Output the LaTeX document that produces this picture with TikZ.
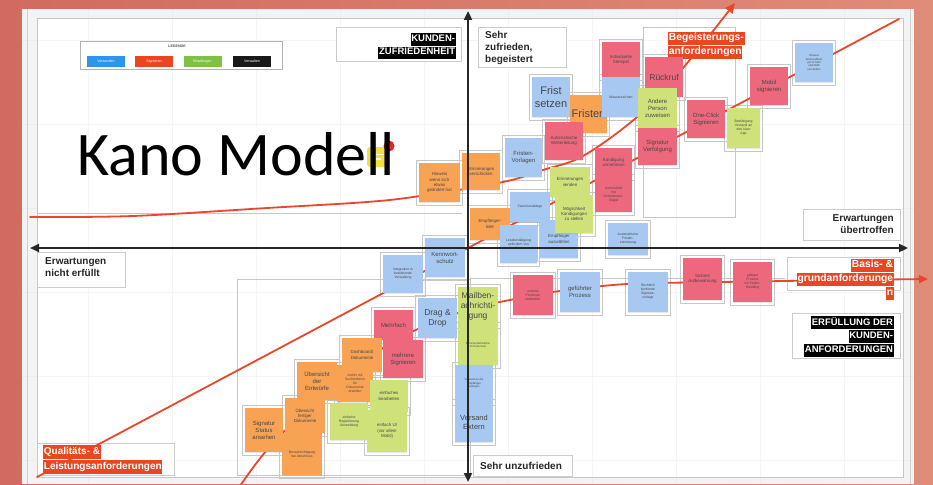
\documentclass[tikz,border=0pt]{standalone}
\usepackage{fontspec}
\setmainfont{Liberation Sans}
\newfontfamily\kanofont{Carlito}
\usetikzlibrary{arrows.meta,shadows}
\definecolor{salmonL}{HTML}{D26A5F}
\definecolor{salmonM}{HTML}{E8A28D}
\definecolor{salmonR}{HTML}{DF8C79}
\definecolor{panelgray}{HTML}{F3F3F3}
\definecolor{redline}{HTML}{E8472B}
\definecolor{redlbl}{HTML}{E9471F}
\definecolor{nOrange}{HTML}{F8A253}
\definecolor{nBlue}{HTML}{A7C9F1}
\definecolor{nPink}{HTML}{EE687D}
\definecolor{nGreen}{HTML}{CFE27A}
\definecolor{lgBlue}{HTML}{2E95EC}
\definecolor{lgRed}{HTML}{EA4420}
\definecolor{lgGreen}{HTML}{7EC243}
\definecolor{iconYellow}{HTML}{F1E23A}
\definecolor{badgeRed}{HTML}{E0242B}

\pgfdeclarelayer{bg}
\pgfdeclarelayer{frames}
\pgfdeclarelayer{curves}
\pgfdeclarelayer{fore}
\pgfsetlayers{bg,frames,curves,main,fore}

\newcommand\blkhl[1]{{\setlength{\fboxsep}{0.7pt}\colorbox{black}{\textcolor{white}{\strut #1}}}}
\newcommand\redhl[1]{{\setlength{\fboxsep}{0.7pt}\colorbox{redlbl}{\textcolor{white}{\strut #1}}}}

\newcommand\stick[8]{%
  \begin{pgfonlayer}{frames}
    \draw[frameline] (#2-2.5,#3-2.5) rectangle (#4+2.5,#5+3.5);
  \end{pgfonlayer}
  \node[note, fill=#6, #7, minimum width={(#4-#2)*1pt}, minimum height={(#5-#3)*1pt}] (#1) at ({(#2+#4)/2},{(#3+#5)/2}) {#8};%
}

\begin{document}
\begin{tikzpicture}[x=1pt,y=-1pt,
  note/.style={rectangle, inner sep=0.5pt, align=center, text=black!72,
    drop shadow={opacity=0.18, shadow xshift=0.3pt, shadow yshift=-1.3pt}},
  frameline/.style={draw=black!22, line width=0.35pt},
  labelbox/.style={draw=black!20, fill=white, line width=0.4pt, rectangle, inner sep=0pt},
  lbltext/.style={font=\bfseries\fontsize{10}{12}\selectfont, inner sep=0pt, text=black!85},
  curve/.style={draw=redline, line width=1.8pt, line cap=round},
  axis/.style={draw=black!85, line width=2.2pt, {Triangle[length=9pt,width=8pt]}-{Triangle[length=9pt,width=8pt]}},
  legbtn/.style={minimum width=38, minimum height=11, inner sep=0, text=white, font=\fontsize{3.6}{4}\selectfont},
  txxs/.style={font=\fontsize{2.8}{3.3}\selectfont},
  txs/.style={font=\fontsize{3.4}{4}\selectfont},
  ts/.style={font=\fontsize{4.4}{5.2}\selectfont},
  tm/.style={font=\fontsize{6}{7}\selectfont},
  tM/.style={font=\fontsize{7.5}{8.8}\selectfont},
  tL/.style={font=\fontsize{8.5}{10}\selectfont},
  tXL/.style={font=\fontsize{11}{12.5}\selectfont}]
\useasboundingbox (0,0) rectangle (933,484);

% ---------- background ----------
\begin{pgfonlayer}{bg}
  \shade[left color=salmonL, middle color=salmonM, right color=salmonR] (0,0) rectangle (933,484);
  \fill[panelgray] (22,9) rectangle (914,484);
  \foreach \gx in {88,172,256,340,424,508,592,676,760,844}
    \draw[black!7, line width=0.4pt] (\gx,9) -- (\gx,484);
  \foreach \gy in {40,124,208,292,376,460}
    \draw[black!7, line width=0.4pt] (22,\gy) -- (914,\gy);
  \draw[black!18, line width=0.5pt] (27,9) -- (27,484);
  \draw[black!18, line width=0.5pt] (910,9) -- (910,484);
  \fill[white] (37,18) rectangle (903,477);
  \foreach \gx in {88,172,256,340,424,508,592,676,760,844}
    \draw[black!4, line width=0.4pt] (\gx,18) -- (\gx,477);
  \foreach \gy in {40,124,292,376,460}
    \draw[black!4, line width=0.4pt] (37,\gy) -- (903,\gy);
  \draw[black!22, line width=0.5pt] (37,18) rectangle (903,477);
\end{pgfonlayer}

% ---------- region frames and label boxes ----------
\begin{pgfonlayer}{frames}
  \draw[frameline] (37,213) -- (462,213);
  \draw[frameline] (643,27) rectangle (735,217);
  \draw[frameline] (237,279) rectangle (470,475);
  \draw[frameline] (470,278) -- (785,278);
  \node[labelbox, minimum width=125, minimum height=34] (kzbox) at (398.5,44) {};
  \node[labelbox, minimum width=88, minimum height=40] (szbox) at (522,47) {};
  \node[labelbox, minimum width=97, minimum height=31] (eubox) at (851.5,224.5) {};
  \node[labelbox, minimum width=88, minimum height=35] (enbox) at (81,269.5) {};
  \node[labelbox, minimum width=137, minimum height=32] (qlbox) at (105.5,459) {};
  \node[labelbox, minimum width=99, minimum height=21] (subox) at (522.5,465.5) {};
  \node[labelbox, minimum width=108, minimum height=45] (ekbox) at (846,335.5) {};
  \node[labelbox, minimum width=113, minimum height=33] (bgbox) at (843.5,273.5) {};
\end{pgfonlayer}

% ---------- Kano curves ----------
\begin{pgfonlayer}{curves}
  \coordinate (aS) at (30,217);
  \coordinate (aE) at (735,3);
  \draw[curve, -{Triangle[length=10pt,width=9pt]}] plot[smooth, tension=0.55]
    coordinates {(aS) (133,216) (267,208) (367,202) (420,196) (503,182) (543,170) (583,156) (637,117) (683,68) (aE)};
  \coordinate (lS) at (37,477);
  \coordinate (lE) at (899,19);
  \draw[curve] (lS) -- (lE);
  \coordinate (bS) at (240,486);
  \coordinate (bE) at (928,279);
  \draw[curve, -{Triangle[length=9pt,width=8pt]}] plot[smooth, tension=0.5]
    coordinates {(bS) (267,450) (320,396) (380,350) (420,328) (470,309) (515,299) (560,291) (627,284) (722,282) (850,280) (bE)};
\end{pgfonlayer}

% ---------- legend ----------
\node[draw=black!30, fill=white, line width=0.4pt, minimum width=202, minimum height=28, inner sep=0] (legend) at (181,55) {};
\node[font=\bfseries\fontsize{3.6}{4}\selectfont, text=black!70, inner sep=0] (legtitle) at (177,46) {LEGENDE};
\node[legbtn, fill=lgBlue] (lgA) at (106,61.5) {Versenden};
\node[legbtn, fill=lgRed] (lgB) at (154,61.5) {Signieren};
\node[legbtn, fill=lgGreen] (lgC) at (202.5,61.5) {Empfangen};
\node[legbtn, fill=black!90] (lgD) at (252,61.5) {Verwalten};

% ---------- labels ----------
\node[lbltext, font=\bfseries\fontsize{9.5}{11}\selectfont, anchor=north east, align=right] (kz) at (456,33) {\blkhl{KUNDEN-}\\\blkhl{ZUFRIEDENHEIT}};
\node[lbltext, anchor=north west, align=left] (sz) at (485,31) {Sehr\\zufrieden,\\begeistert};
\node[lbltext, anchor=north east, align=right] (eu) at (894,214) {Erwartungen\\übertroffen};
\node[lbltext, anchor=north west, align=left] (en) at (45,257) {Erwartungen\\nicht erfüllt};
\node[lbltext, font=\bfseries\fontsize{10}{12.5}\selectfont, anchor=north west, align=left] (ql) at (43,445) {\redhl{Qualitäts- \&}\\\redhl{Leistungsanforderungen}};
\node[lbltext, anchor=west] (su) at (480,466) {Sehr unzufrieden};
\node[lbltext, font=\bfseries\fontsize{9.5}{11.5}\selectfont, anchor=north east, align=right] (ek) at (894,316) {\blkhl{ERFÜLLUNG DER}\\\blkhl{KUNDEN-}\\\blkhl{ANFORDERUNGEN}};
\node[lbltext, font=\bfseries\fontsize{10.3}{11.5}\selectfont, anchor=north east, align=right] (bg) at (894,259) {\redhl{Basis- \&}\\\redhl{grundanforderunge}\\\redhl{n}};
\node[lbltext, font=\bfseries\fontsize{10.3}{11.5}\selectfont, anchor=north west, align=left] (bgs) at (668,32) {\redhl{Begeisterungs-}\\\redhl{anforderungen}};

% ---------- sticky notes ----------
% upper left / centre
\stick{hinweis}{419}{163}{460}{202}{nOrange}{ts}{Hinweis\\wenn sich\\etwas\\geändert hat}
\stick{erinn}{462}{153}{500}{190}{nOrange}{ts}{Erinnerungen\\verschicken}
\stick{fristvorl}{505}{138}{542}{177}{nBlue}{tm}{Fristen-\\Vorlagen}
\stick{empfliste}{470}{208}{510}{240}{nOrange}{ts}{Empfänger-\\liste}
\stick{zwischen}{510}{192}{550}{222}{nBlue}{txs}{Zwischenablage}
\stick{lesebest}{500}{225}{537}{263}{nBlue}{txs}{Lesebestätigung\\anfordern von\\allen Personen}
\stick{empfausw}{540}{220}{578}{258}{nBlue}{ts}{Empfänger\\auswählen}
\stick{erinnsend}{550}{167}{590}{197}{nGreen}{ts}{Erinnerungen\\senden}
\stick{kuend}{555}{195}{593}{233}{nGreen}{ts}{Möglichkeit\\Kündigungen\\zu stellen}
\stick{autofrist}{608}{223}{648}{255}{nBlue}{txs}{Automatische\\Fristen-\\erinnerung}
\stick{kennwort}{425}{238}{465}{277}{nBlue}{tm}{Kennwort-\\schutz}
% upper right
\stick{fristsetzen}{532}{77}{570}{117}{nBlue}{tXL}{Frist\\setzen}
\stick{fristen}{570}{95}{607}{133}{nOrange}{tXL}{Fristen}
\stick{weiterl}{545}{122}{583}{160}{nPink}{ts}{Automatische\\Weiterleitung}
\stick{stempel}{602}{42}{640}{77}{nPink}{ts}{Individuelle\\Stempel}
\stick{wasser}{602}{77}{640}{117}{nBlue}{txs}{Wasserzeichen}
\stick{rueckruf}{645}{57}{683}{97}{nPink}{tL}{Rückruf}
\stick{andere}{638}{88}{677}{128}{nGreen}{tm}{Andere\\Person\\zuweisen}
\stick{sigverf}{638}{128}{677}{165}{nPink}{tm}{Signatur\\Verfolgung}
\stick{kuendvorn}{595}{148}{632}{177}{nPink}{ts}{Kündigung\\vornehmen}
\stick{siegel}{595}{177}{632}{212}{nPink}{txs}{Unterschrift\\mit\\Drittanbieter-\\Siegel}
\stick{oneclick}{687}{100}{725}{138}{nPink}{tm}{One-Click\\Signieren}
\stick{bestaet}{727}{108}{760}{148}{nGreen}{txs}{Bestätigung\\Versand an\\den User\\App}
\stick{mobil}{750}{67}{788}{105}{nPink}{tm}{Mobil\\signieren}
\stick{hinweissms}{795}{43}{833}{82}{nBlue}{txxs}{Hinweis\\Fristenablauf\\per E-Mail\\und SMS\\versenden}
% lower left
\stick{integr}{383}{255}{423}{293}{nBlue}{txs}{Integration in\\bestehende\\Verwaltung}
\stick{mehrfach}{374}{310}{413}{340}{nPink}{tm}{Mehrfach}
\stick{dragdrop}{418}{298}{457}{338}{nBlue}{tL}{Drag \&\\Drop}
\stick{dashboard}{342}{338}{382}{372}{nOrange}{ts}{Dashboard/\\Dokumente}
\stick{mehrere}{383}{340}{423}{378}{nPink}{tm}{mehrere\\Signieren}
\stick{uebersicht}{297}{362}{337}{400}{nOrange}{tm}{Übersicht\\der\\Entwürfe}
\stick{archiv}{337}{365}{373}{402}{nOrange}{txs}{Archiv mit\\Suchfunktion\\für\\Dokumente\\erstellen}
\stick{bearbeiten}{370}{380}{408}{412}{nGreen}{ts}{einfaches\\bearbeiten}
\stick{fertig}{285}{398}{325}{433}{nOrange}{ts}{Übersicht\\fertiger\\Dokumente}
\stick{sigstatus}{245}{408}{283}{452}{nOrange}{tm}{Signatur\\Status\\ansehen}
\stick{benachr}{282}{433}{322}{475}{nOrange}{txs}{Benachrichtigung\\bei Abschluss}
\stick{registr}{330}{403}{368}{440}{nGreen}{txs}{einfache\\Registrierung\\/Anmeldung}
\stick{einfachui}{367}{410}{407}{452}{nGreen}{ts}{einfach UI\\(vor allem\\Mobil)}
% lower centre
\stick{mailben}{458}{287}{498}{325}{nGreen}{tL}{Mailben-\\achrichti-\\gung}
\stick{kommentar}{458}{325}{498}{365}{nGreen}{txxs}{Kommentarfunktion\\im Dokument}
\stick{versandemp}{455}{365}{493}{402}{nBlue}{txxs}{Versand an die\\Empfänger\\festlegen}
\stick{extern}{455}{402}{493}{442}{nBlue}{tM}{Versand\\Extern}
% lower right
\stick{externe}{513}{275}{553}{315}{nPink}{txs}{externe\\Personen\\einbinden}
\stick{gefuehrt}{560}{272}{600}{312}{nBlue}{tm}{geführter\\Prozess}
\stick{vorlage}{628}{272}{668}{312}{nBlue}{txs}{Rechtlich\\konforme\\Signatur-\\vorlage}
\stick{aufbew}{683}{258}{722}{300}{nPink}{ts}{Sichere\\Aufbewahrung}
\stick{handling}{733}{262}{772}{302}{nPink}{txs}{gültiger\\Prozess\\mit Fehler-\\Handling}

% ---------- title with comment icon ----------
\node[fill=iconYellow, rounded corners=3pt, minimum width=22, minimum height=20, inner sep=0] (icon) at (378,157) {};
\draw[white, line width=1.2pt] ([xshift=-6pt,yshift=2.5pt]icon.center) -- ([xshift=6pt,yshift=2.5pt]icon.center);
\draw[white, line width=1.2pt] ([xshift=-6pt,yshift=-2pt]icon.center) -- ([xshift=3pt,yshift=-2pt]icon.center);
\node[circle, fill=badgeRed, minimum size=11, inner sep=0, text=white, font=\bfseries\fontsize{6}{6}\selectfont] (badge) at (389,146) {1};
\node[anchor=base west, inner sep=0pt, font=\kanofont\fontsize{62}{70}\selectfont] (kano) at (77,175) {Kano Modell};

% ---------- axes ----------
\begin{pgfonlayer}{fore}
  \coordinate (hL) at (30,248);
  \coordinate (hR) at (908,248);
  \coordinate (vT) at (468,11);
  \coordinate (vB) at (468,482);
  \draw[axis] (hL) -- (hR);
  \draw[axis] (vB) -- (vT);
\end{pgfonlayer}
\end{tikzpicture}
\end{document}
